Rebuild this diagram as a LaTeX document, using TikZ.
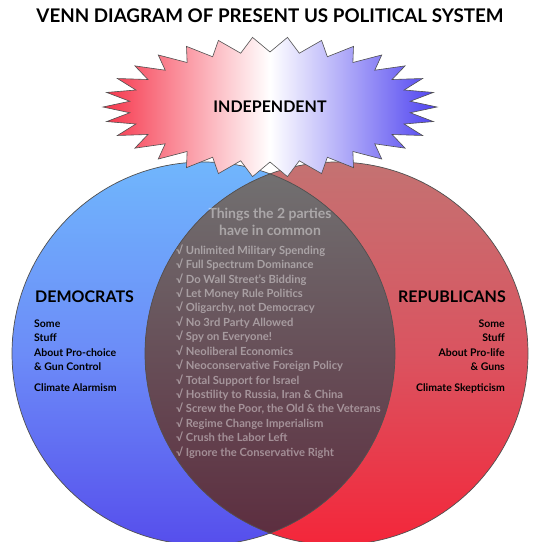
\documentclass[tikz,border=0pt]{standalone}
\usepackage{fontspec}
\setmainfont{Lato}
\definecolor{blueTop}{RGB}{112,182,252}
\definecolor{blueMid}{RGB}{108,140,248}
\definecolor{blueBot}{RGB}{86,78,236}
\definecolor{redTop}{RGB}{196,114,114}
\definecolor{redMid}{RGB}{218,84,96}
\definecolor{redBot}{RGB}{244,38,58}
\definecolor{lensTop}{RGB}{114,114,114}
\definecolor{lensBot}{RGB}{92,44,62}
\definecolor{starRed}{RGB}{246,52,74}
\definecolor{starBlue}{RGB}{78,66,240}
\definecolor{edge}{RGB}{80,80,80}
\begin{document}
\begin{tikzpicture}[x=1pt,y=-1pt,
  vennline/.style={draw=edge, line width=0.7pt},
  title/.style={inner sep=0pt, font=\fontsize{18.8}{22}\selectfont\bfseries},
  party/.style={inner sep=0pt, font=\fontsize{16}{19}\selectfont\bfseries},
  sub/.style={inner sep=0pt, font=\fontsize{10.5}{14.5}\selectfont\bfseries},
  common/.style={inner sep=0pt, text=white, text opacity=0.42},
]
\fill[white] (0,0) rectangle (540,542);
\useasboundingbox (0,0) rectangle (540,542);
\clip (0,0) rectangle (540,542);
\coordinate (cl) at (203.5,353.5);
\coordinate (cr) at (336.5,353.5);
% circles
\shade[top color=blueTop, bottom color=blueBot, middle color=blueMid] (cl) circle[radius=191.5];
\shade[top color=redTop, bottom color=redBot, middle color=redMid] (cr) circle[radius=191.5];
\begin{scope}
  \clip (cl) circle[radius=191.5];
  \shade[top color=lensTop, bottom color=lensBot] (cr) circle[radius=191.5];
\end{scope}
\draw[vennline] (cl) circle[radius=191.5];
\draw[vennline] (cr) circle[radius=191.5];
% starburst
\shade[left color=starRed, right color=starBlue, middle color=white, draw=edge, line width=0.6pt]
  plot[samples at={0,...,59}, variable=\k]
  ({270 + (167 - 26*mod(\k,2))*cos(\k*6)},
   {107 + (70 - 15*mod(\k,2))*sin(\k*6)}) -- cycle;
% texts
\node[title] (t) at (270,16) {VENN DIAGRAM OF PRESENT US POLITICAL SYSTEM};
\node[party] (ind) at (270,107) {INDEPENDENT};
\node[party, anchor=west] (dem) at (35,297) {DEMOCRATS};
\node[party, anchor=east] (rep) at (506,297) {REPUBLICANS};
\node[sub, anchor=north west, align=left] (demsub) at (34,319.5)
  {Some\\Stuff\\About Pro-choice\\\& Gun Control\\[6pt]Climate Alarmism};
\node[sub, anchor=north east, align=right] (repsub) at (505,319.5)
  {Some\\Stuff\\About Pro-life\\\& Guns\\[6pt]Climate Skepticism};
\node[common, font=\fontsize{14}{17}\selectfont\bfseries, align=center] (head) at (270,222)
  {Things the 2 parties\\have in common};
\node[common, font=\fontsize{11.2}{14.43}\selectfont\bfseries, align=left, anchor=north west] (list) at (176,244.5)
  {√ Unlimited Military Spending\\
   √ Full Spectrum Dominance\\
   √ Do Wall Street’s Bidding\\
   √ Let Money Rule Politics\\
   √ Oligarchy, not Democracy\\
   √ No 3rd Party Allowed\\
   √ Spy on Everyone!\\
   √ Neoliberal Economics\\
   √ Neoconservative Foreign Policy\\
   √ Total Support for Israel\\
   √ Hostility to Russia, Iran \& China\\
   √ Screw the Poor, the Old \& the Veterans\\
   √ Regime Change Imperialism\\
   √ Crush the Labor Left\\
   √ Ignore the Conservative Right};
\end{tikzpicture}
\end{document}
